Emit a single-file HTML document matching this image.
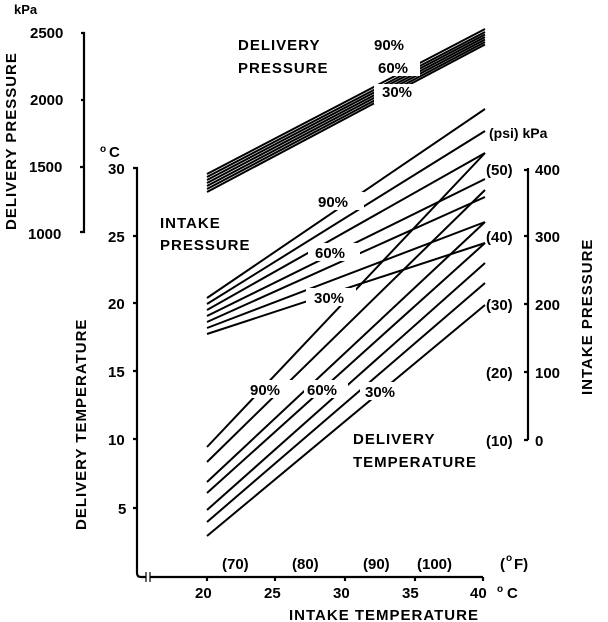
<!DOCTYPE html><html><head><style>body{margin:0;background:#fff}svg{display:block}text{font-family:"Liberation Sans",sans-serif;font-weight:bold;fill:#000}</style></head><body>
<svg width="608" height="622" viewBox="0 0 608 622" xmlns="http://www.w3.org/2000/svg">
<g stroke="#000" stroke-width="2.2" fill="none">
<path d="M81,33 H84 V232 H80 M81,100 H84 M80,167 H84"/>
<path d="M133,168 H137 V573 Q137,577 141,577 H483 M133,236 H137 M133,303 H137 M133,371 H137 M133,439 H137 M133,508 H137"/>
<path d="M207,577 V581 M275,577 V581 M345,577 V581 M415,577 V581 M483,577 V581"/>
<path d="M528,168 V440 M524,170 H528 M524,236 H528 M524,304 H528 M524,372 H528 M524,440 H528"/>
</g>
<g stroke="#fff" stroke-width="4"><path d="M148,572 V582"/></g>
<g stroke="#000" stroke-width="1.2"><path d="M146,572 V582 M150,572 V582"/></g>
<g stroke="#000" stroke-width="2" fill="none">
<path d="M207,174 L485,29 M207,177 L485,32 M207,180 L485,34.5 M207,183 L485,37 M207,186 L485,39.5 M207,189 L485,42 M207,192 L485,44.5"/>
<path d="M207,298 L485,109 M207,304 L485,131 M207,310 L485,153 M207,316 L485,179 M207,322 L485,197 M207,328 L485,222 M207,334 L485,243"/>
<path d="M207,447 L485,153 M207,462 L485,190 M207,482 L485,222 M207,493 L485,243 M207,510 L485,263 M207,522 L485,283 M207,536 L485,305"/>
</g>
<g fill="#fff"><rect x="300" y="192" width="64" height="18"/><rect x="308" y="243" width="52" height="18"/><rect x="306" y="288" width="50" height="18"/>
<rect x="246" y="380" width="46" height="18"/><rect x="304" y="380" width="44" height="18"/><rect x="360" y="382" width="48" height="18"/>
<rect x="372" y="36" width="42" height="18"/><rect x="376" y="58" width="44" height="18"/><rect x="374" y="84" width="50" height="20"/></g>
<g font-size="15">
<text x="14" y="14" font-size="13">kPa</text>
<text x="30" y="38">2500</text><text x="30" y="105">2000</text><text x="29" y="172">1500</text><text x="28" y="239">1000</text>
<text x="100" y="152" font-size="10">o</text><text x="109" y="157">C</text>
<text x="108" y="174">30</text><text x="108" y="242">25</text><text x="108" y="309">20</text><text x="108" y="377">15</text><text x="108" y="445">10</text><text x="118" y="514">5</text>
<text transform="translate(16,230) rotate(-90)" font-size="15" letter-spacing="1">DELIVERY PRESSURE</text>
<text transform="translate(86,530) rotate(-90)" font-size="15" letter-spacing="1">DELIVERY TEMPERATURE</text>
<text transform="translate(592,395) rotate(-90)" font-size="15" letter-spacing="1">INTAKE PRESSURE</text>
<text x="238" y="50" letter-spacing="1">DELIVERY</text><text x="238" y="73" letter-spacing="1">PRESSURE</text>
<text x="374" y="50">90%</text><text x="378" y="73">60%</text><text x="382" y="97">30%</text>
<text x="160" y="228" letter-spacing="1">INTAKE</text><text x="160" y="250" letter-spacing="1">PRESSURE</text>
<text x="318" y="207">90%</text><text x="315" y="258">60%</text><text x="314" y="303">30%</text>
<text x="250" y="395">90%</text><text x="307" y="395">60%</text><text x="365" y="397">30%</text>
<text x="353" y="444" letter-spacing="1">DELIVERY</text><text x="353" y="467" letter-spacing="1">TEMPERATURE</text>
<text x="489" y="138" font-size="14">(psi) kPa</text>
<text x="486" y="175">(50)</text><text x="486" y="242">(40)</text><text x="486" y="310">(30)</text><text x="486" y="378">(20)</text><text x="486" y="446">(10)</text>
<text x="535" y="175">400</text><text x="535" y="242">300</text><text x="535" y="310">200</text><text x="535" y="378">100</text><text x="535" y="446">0</text>
<text x="222" y="569">(70)</text><text x="292" y="569">(80)</text><text x="363" y="569">(90)</text><text x="417" y="569">(100)</text>
<text x="500" y="569">(</text><text x="506" y="561" font-size="10">o</text><text x="514" y="569">F)</text>
<text x="195" y="598">20</text><text x="264" y="598">25</text><text x="333" y="598">30</text><text x="402" y="598">35</text><text x="470" y="598">40</text>
<text x="497" y="592" font-size="10">o</text><text x="507" y="598">C</text>
<text x="289" y="620" letter-spacing="1">INTAKE TEMPERATURE</text>
</g>
</svg></body></html>
